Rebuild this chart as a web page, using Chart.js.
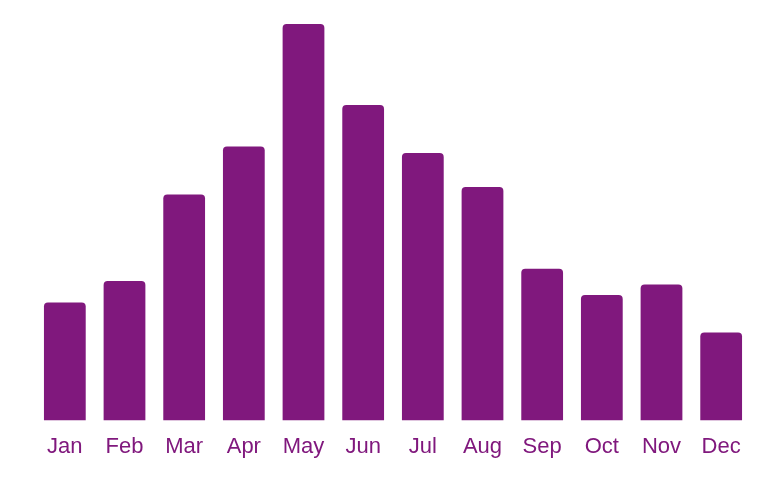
<!DOCTYPE html>
<html>
<head>
<meta charset="utf-8">
<script src="https://cdn.jsdelivr.net/npm/chart.js@4"></script>
<style>
  html, body { margin: 0; padding: 0; background: #fff; }
  #wrap { width: 784px; height: 484px; }
</style>
</head>
<body>
<div id="wrap"><canvas id="monthChart"></canvas></div>
<script>
const months = ['Jan', 'Feb', 'Mar', 'Apr', 'May', 'Jun', 'Jul', 'Aug', 'Sep', 'Oct', 'Nov', 'Dec'];
const values = [29.8, 35.2, 57, 69.1, 100, 79.6, 67.5, 58.9, 38.3, 31.7, 34.3, 22.2];
const purple = 'rgb(128, 24, 125)';

document.addEventListener('DOMContentLoaded', function() {
  const ctx = document.getElementById('monthChart').getContext('2d');

  new Chart(ctx, {
    type: 'bar',
    data: {
      labels: months,
      datasets: [{
        data: values,
        backgroundColor: purple,
        borderWidth: 0,
        borderRadius: { topLeft: 4, topRight: 4 },
        borderSkipped: false,
        categoryPercentage: 1,
        barPercentage: 0.7
      }]
    },
    options: {
      responsive: true,
      maintainAspectRatio: false,
      animation: false,
      layout: { padding: { left: 35, right: 33, top: 24, bottom: 19 } },
      plugins: { legend: { display: false }, tooltip: { enabled: false } },
      scales: {
        x: {
          grid: { display: false },
          border: { display: false },
          ticks: {
            color: purple,
            padding: 5,
            font: { family: 'Liberation Sans, Arial, sans-serif', size: 22 }
          }
        },
        y: {
          display: false,
          min: 0,
          max: 100
        }
      }
    }
  });
});
</script>
</body>
</html>
